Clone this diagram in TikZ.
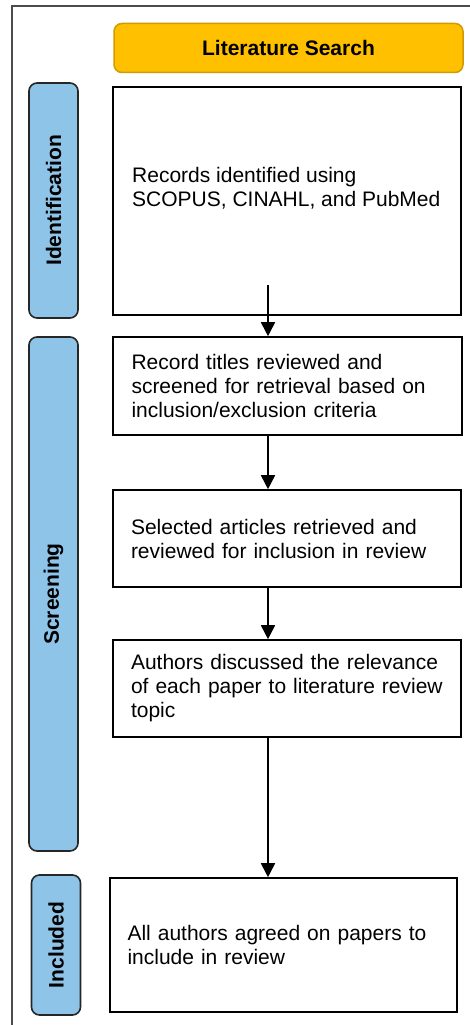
\documentclass[tikz,border=0pt]{standalone}
\usepackage{fontspec}
\setmainfont{Liberation Sans}
\usetikzlibrary{arrows.meta,calc}
\definecolor{gold}{HTML}{FFC000}
\definecolor{goldline}{HTML}{D09A00}
\definecolor{phase}{HTML}{8EC4E8}
\tikzset{
 stagebox/.style={draw=black, line width=1.6pt, fill=white, inner sep=0pt, align=left, text width=312pt, font=\fontsize{21}{24}\selectfont},
 phasebox/.style={draw=black!85, line width=1.6pt, fill=phase, rounded corners=8pt, rotate=90, minimum height=49pt, inner sep=0pt, font=\fontsize{21}{24}\selectfont\bfseries},
 titlebox/.style={draw=goldline, fill=gold, line width=1.5pt, rounded corners=8pt, font=\fontsize{21}{24}\selectfont\bfseries},
 boxtext/.style={align=left, font=\fontsize{21}{24}\selectfont, inner sep=0pt},
 flow/.style={-{Triangle[length=14pt,width=14pt]}, line width=1.8pt},
}
\begin{document}
\begin{tikzpicture}[x=1pt,y=-1pt]
\useasboundingbox (0,0) rectangle (470,1025);
\draw[line width=1.5pt, black!70] (12,1025) -- (12,6) -- (470,6);
\node[titlebox, minimum width=349pt, minimum height=49pt] (search) at (288.5,48) {Literature Search};
\node[phasebox, minimum width=235pt] (ident) at (53.5,200.5) {Identification};
\node[phasebox, minimum width=514pt] (screen) at (53.5,594) {Screening};
\node[phasebox, minimum width=140pt] (incl) at (56,945) {Included};
\node[stagebox, minimum width=348pt, minimum height=228pt] (box1) at (287,201) {};
\node[boxtext, anchor=west] (box1text) at (132,188) {Records identified using\\SCOPUS, CINAHL, and PubMed};
\node[stagebox, minimum width=349pt, minimum height=98pt] (box2) at (287.5,386) {Record titles reviewed and\\screened for retrieval based on\\inclusion/exclusion criteria};
\node[stagebox, minimum width=348pt, minimum height=97pt] (box3) at (287,538.5) {Selected articles retrieved and\\reviewed for inclusion in review};
\node[stagebox, minimum width=348pt, minimum height=97pt] (box4) at (287,688.5) {Authors discussed the relevance\\of each paper to literature review\\topic};
\node[stagebox, minimum width=347pt, minimum height=134pt] (box5) at (283.5,945) {All authors agreed on papers to\\include in review};
\coordinate (ax) at (268,0);
\coordinate (a1) at (268,285);
\draw[flow] (a1) -- (box2.north -| ax);
\draw[flow] (box2.south -| ax) -- (box3.north -| ax);
\draw[flow] (box3.south -| ax) -- (box4.north -| ax);
\draw[flow] (box4.south -| ax) -- (box5.north -| ax);
\end{tikzpicture}
\end{document}
